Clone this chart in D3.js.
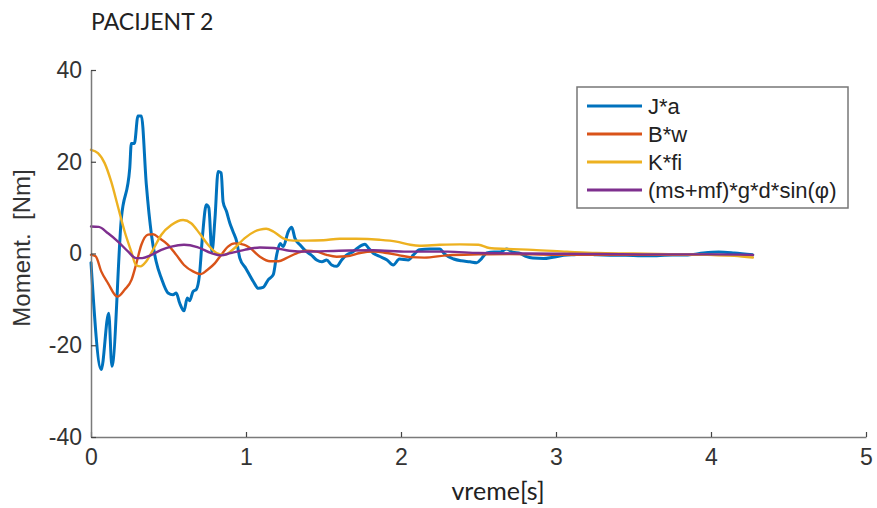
<!DOCTYPE html>
<html>
<head>
<meta charset="utf-8">
<script src="https://cdn.jsdelivr.net/npm/d3@7"></script>
<style>
  html, body { margin: 0; padding: 0; background: #fff; }
  svg { display: block; }
</style>
</head>
<body>
<svg id="chart" width="877" height="508"></svg>
<script>
// Torque components over time, patient 2
const jaT = [0, 0.066, 0.114, 0.135, 0.196, 0.25, 0.26, 0.28, 0.303, 0.325, 0.357, 0.39, 0.42, 0.454, 0.497, 0.529, 0.55, 0.572, 0.6, 0.621, 0.636, 0.658, 0.68, 0.70, 0.72, 0.744, 0.76, 0.78, 0.80, 0.82, 0.84, 0.852, 0.874, 0.896, 0.916, 0.94, 0.96, 1.0, 1.047, 1.08, 1.11, 1.144, 1.176, 1.198, 1.22, 1.24, 1.273, 1.295, 1.316, 1.348, 1.39, 1.42, 1.456, 1.49, 1.52, 1.553, 1.585, 1.617, 1.65, 1.69, 1.72, 1.768, 1.79, 1.82, 1.86, 1.91, 1.95, 1.99, 2.047, 2.08, 2.12, 2.187, 2.25, 2.28, 2.34, 2.39, 2.445, 2.488, 2.52, 2.553, 2.6, 2.64, 2.68, 2.72, 2.77, 2.81, 2.85, 2.92, 2.98, 3.05, 3.13, 3.2, 3.26, 3.35, 3.45, 3.55, 3.65, 3.75, 3.85, 3.95, 4.05, 4.15, 4.27];
const jaV = [-2, -25.3, -13, -24.6, 7.7, 18.6, 24, 24, 30, 30, 15, 4.1, -1.7, -5.4, -8.6, -9, -8.6, -10.8, -12.5, -9.7, -10.3, -8.3, -7.8, -4.6, 4.1, 10.6, 10, 0.4, 7.7, 17.9, 17.6, 11.3, 9.2, 6.6, 4.8, 2.6, -1, -3.3, -6.1, -7.6, -7.4, -5.7, -4.6, -0.3, 2.2, 1.5, 4.8, 5.7, 3.3, 1.9, 0.4, -0.3, -1.4, -1.8, -1.4, -2.5, -2.8, -1.4, -0.3, 0.4, 1.2, 2, 1.2, 0.1, -0.6, -1.4, -2.5, -1.2, -1.4, -0.3, 0.8, 1, 1, -0.1, -1.2, -1.6, -1.8, -2.0, -1.1, 0.1, 0.3, 0.3, 1.0, 0.3, 0, -0.7, -1.0, -1.1, -0.8, -0.4, -0.2, 0, -0.3, -0.4, -0.4, -0.5, -0.5, -0.3, -0.3, 0.1, 0.3, 0.1, -0.3];

const bwT = [0, 0.03, 0.066, 0.11, 0.17, 0.217, 0.262, 0.29, 0.325, 0.368, 0.4, 0.443, 0.497, 0.55, 0.6, 0.658, 0.71, 0.75, 0.8, 0.84, 0.884, 0.927, 0.99, 1.026, 1.09, 1.155, 1.21, 1.26, 1.33, 1.39, 1.456, 1.52, 1.585, 1.65, 1.735, 1.82, 1.91, 1.99, 2.06, 2.15, 2.3, 2.5, 2.7, 3.0, 3.3, 3.6, 3.9, 4.27];
const bwV = [-0.3, -0.6, -3.9, -6.5, -9.4, -7.9, -5.7, -2.5, 1.9, 4.1, 4.2, 3.3, 1.9, -0.3, -2.5, -3.9, -4.5, -3.6, -2.1, -0.3, 1.5, 2.2, 1.9, 1.2, -0.7, -1.7, -1.7, -1, 0.1, 0.6, 0.4, -0.3, -0.7, -0.6, 0.1, 0.4, 0.1, -0.4, -0.8, -0.9, -0.4, -0.2, -0.1, -0.3, -0.3, -0.3, -0.3, -0.4];

const kfT = [0, 0.045, 0.088, 0.13, 0.174, 0.217, 0.26, 0.29, 0.32, 0.357, 0.4, 0.454, 0.518, 0.594, 0.646, 0.7, 0.755, 0.81, 0.86, 0.927, 0.99, 1.056, 1.09, 1.13, 1.176, 1.24, 1.305, 1.39, 1.5, 1.606, 1.71, 1.86, 1.97, 2.06, 2.12, 2.25, 2.38, 2.5, 2.57, 2.68, 2.85, 3.07, 3.26, 3.5, 3.8, 4.0, 4.15, 4.27];
const kfV = [22.6, 21.9, 19.7, 15.7, 10.2, 4.8, 0.4, -2.5, -2.8, -1.7, 0.8, 4.1, 6.2, 7.3, 6.6, 4.4, 1.9, 0.1, -0.3, 1.2, 3.3, 4.8, 5.2, 5.4, 4.8, 3.3, 2.8, 2.8, 2.9, 3.2, 3.2, 3.0, 2.6, 1.9, 1.7, 1.9, 2.0, 1.9, 1.2, 1.0, 0.8, 0.4, 0.1, 0, -0.2, -0.3, -0.5, -0.9];

const grT = [0, 0.05, 0.11, 0.174, 0.24, 0.29, 0.33, 0.39, 0.454, 0.518, 0.6, 0.686, 0.776, 0.84, 0.9, 0.99, 1.09, 1.18, 1.28, 1.39, 1.6, 1.82, 2.04, 2.3, 2.5, 2.8, 3.2, 3.6, 4.0, 4.27];
const grV = [5.9, 5.8, 4.4, 2.6, 0.4, -1, -1, -0.3, 0.8, 1.5, 1.9, 1.4, 0.1, -0.4, 0.1, 0.8, 1.3, 1.2, 0.6, 0.4, 0.6, 0.7, 0.4, 0.4, 0.1, 0, -0.1, -0.2, -0.2, -0.3];

const seriesNames = ["J*a", "B*w", "K*fi", "(ms+mf)*g*d*sin(\u03C6)"];
const seriesColors = ["#0072BD", "#D95319", "#EDB120", "#7E2F8E"];
const xTicks = [0, 1, 2, 3, 4, 5];
const yTicks = [-40, -20, 0, 20, 40];

const series = [
  { name: seriesNames[0], color: seriesColors[0], t: jaT, v: jaV, w: 3 },
  { name: seriesNames[1], color: seriesColors[1], t: bwT, v: bwV, w: 2.4 },
  { name: seriesNames[2], color: seriesColors[2], t: kfT, v: kfV, w: 2.4 },
  { name: seriesNames[3], color: seriesColors[3], t: grT, v: grV, w: 2.4 }
];

const svg = d3.select("#chart");
const m = { left: 91, right: 866, top: 70, bottom: 437 };

const x = d3.scaleLinear().domain([0, 5]).range([m.left, m.right]);
const y = d3.scaleLinear().domain([-40, 40]).range([m.bottom, m.top]);

const axisColor = "#7a7a7a";
const textColor = "#333";
const plainNum = d => String(d);

// Title
svg.append("text")
  .attr("x", 91).attr("y", 30)
  .attr("font-family", "Lato, 'Open Sans', sans-serif")
  .attr("font-size", 23)
  .attr("fill", "#222")
  .text("PACIJENT 2");

// Curves
const line = d3.line()
  .x(d => x(d[0]))
  .y(d => y(d[1]))
  .curve(d3.curveMonotoneX);

const plot = svg.append("g");
series.forEach(s => {
  const pts = s.t.map((t, i) => [t, s.v[i]]);
  plot.append("path")
    .datum(pts)
    .attr("fill", "none")
    .attr("stroke", s.color)
    .attr("stroke-width", s.w)
    .attr("stroke-linejoin", "round")
    .attr("stroke-linecap", "round")
    .attr("d", line);
});

// Axes (ticks point inward)
const xAxis = svg.append("g")
  .attr("transform", `translate(0,${m.bottom})`)
  .call(d3.axisBottom(x).tickValues(xTicks).tickFormat(plainNum).tickSizeInner(-5).tickSizeOuter(0).tickPadding(12));
const yAxis = svg.append("g")
  .attr("transform", `translate(${m.left},0)`)
  .call(d3.axisLeft(y).tickValues(yTicks).tickFormat(plainNum).tickSizeInner(-5).tickSizeOuter(0).tickPadding(9));

[xAxis, yAxis].forEach(g => {
  g.select(".domain").attr("stroke", axisColor).attr("stroke-width", 1.5);
  g.selectAll(".tick line").attr("stroke", "#444").attr("stroke-width", 1.2);
  g.selectAll(".tick text")
    .attr("fill", textColor)
    .attr("font-family", "'Liberation Sans', Arial, sans-serif")
    .attr("font-size", 23);
});

// Axis titles
svg.append("text")
  .attr("x", 498).attr("y", 500)
  .attr("text-anchor", "middle")
  .attr("font-family", "Lato, 'Open Sans', sans-serif")
  .attr("font-size", 25)
  .attr("fill", "#222")
  .text("vreme[s]");

svg.append("text")
  .attr("transform", "translate(30,248) rotate(-90)")
  .attr("text-anchor", "middle")
  .attr("font-family", "'Liberation Sans', Arial, sans-serif")
  .attr("font-size", 24)
  .attr("fill", textColor)
  .attr("xml:space", "preserve")
  .text("Moment.  [Nm]");

// Legend
const lg = svg.append("g");
lg.append("rect")
  .attr("x", 577).attr("y", 87)
  .attr("width", 271).attr("height", 121)
  .attr("fill", "#fff")
  .attr("stroke", "#777")
  .attr("stroke-width", 1.5);

series.forEach((s, i) => {
  const cy = 106 + i * 28;
  lg.append("line")
    .attr("x1", 587).attr("x2", 642)
    .attr("y1", cy).attr("y2", cy)
    .attr("stroke", s.color)
    .attr("stroke-width", 3);
  lg.append("text")
    .attr("x", 648).attr("y", cy + 8)
    .attr("font-family", "'Liberation Sans', Arial, sans-serif")
    .attr("font-size", 22)
    .attr("fill", "#222")
    .text(s.name);
});
</script>
</body>
</html>
